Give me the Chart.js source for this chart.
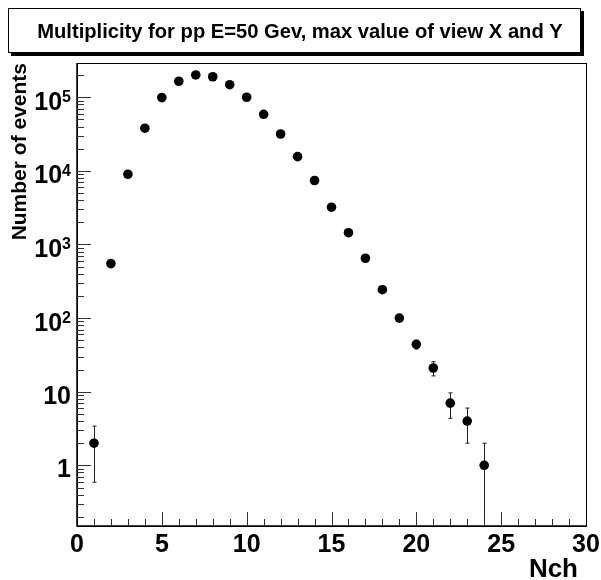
<!DOCTYPE html>
<html>
<head>
<meta charset="utf-8">
<script src="https://cdn.jsdelivr.net/npm/chart.js@4/dist/chart.umd.min.js"></script>
<style>
html,body{margin:0;padding:0;background:#fff;}
canvas{display:block;}
</style>
</head>
<body>
<canvas id="c" width="601" height="580"></canvas>
<script>
// ---- data ----
const titleText = 'Multiplicity for pp E=50 Gev, max value of view X and Y';
const xTitle = 'Nch';
const yTitle = 'Number of events';
const nch = [1,2,3,4,5,6,7,8,9,10,11,12,13,14,15,16,17,18,19,20,21,22,23,24];
const counts = [2, 550, 9000, 38000, 99000, 165000, 201000, 190000, 148000, 100000, 58700, 31700, 15600, 7400, 3210, 1445, 650, 243, 100, 44, 21, 7, 4, 1];
const errors = [1.41, 23, 95, 195, 315, 406, 448, 436, 385, 316, 242, 178, 125, 86, 57, 38, 25, 15.6, 10, 6, 4.6, 2.65, 2, 1];
const xTickValues = [0,5,10,15,20,25,30];
const xTickLabels = ['0','5','10','15','20','25','30'];
const yTickValues = [1,10,100,1000,10000,100000];
const yTickBase = ['1','10','10','10','10','10'];
const yTickExp = ['','','2','3','4','5'];

const FONT = '"Liberation Sans", Arial, Helvetica, sans-serif';

const decor = {
  id: 'decor',
  beforeDatasetsDraw(chart) {
    const ctx = chart.ctx, xs = chart.scales.x, ys = chart.scales.y, a = chart.chartArea;
    ctx.save();
    ctx.strokeStyle = '#222';
    ctx.lineWidth = 1;
    for (let i = 0; i < nch.length; i++) {
      const px = Math.round(xs.getPixelForValue(nch[i])) + 0.5;
      const hi = counts[i] + errors[i];
      const lo = counts[i] - errors[i];
      const pyHi = ys.getPixelForValue(hi);
      const pyLo = lo > ys.min ? ys.getPixelForValue(lo) : a.bottom;
      ctx.beginPath();
      ctx.moveTo(px, pyHi); ctx.lineTo(px, pyLo);
      ctx.moveTo(px - 2, pyHi); ctx.lineTo(px + 2, pyHi);
      if (lo > ys.min) { ctx.moveTo(px - 2, pyLo); ctx.lineTo(px + 2, pyLo); }
      ctx.stroke();
    }
    ctx.restore();
  },
  afterDraw(chart) {
    const ctx = chart.ctx, xs = chart.scales.x, ys = chart.scales.y, a = chart.chartArea;
    ctx.save();
    // frame
    ctx.strokeStyle = '#000';
    ctx.lineWidth = 1;
    ctx.strokeRect(Math.round(a.left) + 0.5, Math.round(a.top) + 0.5, Math.round(a.right - a.left), Math.round(a.bottom - a.top));
    // axes thicker
    ctx.lineWidth = 1.5;
    ctx.beginPath();
    ctx.moveTo(a.left, a.top); ctx.lineTo(a.left, a.bottom); ctx.lineTo(a.right, a.bottom);
    ctx.stroke();
    // y ticks (inside)
    ctx.lineWidth = 1;
    ctx.strokeStyle = '#333';
    ctx.beginPath();
    for (let e = -1; e <= 5; e++) {
      for (let m = 1; m <= 9; m++) {
        const v = m * Math.pow(10, e);
        if (v < ys.min || v > ys.max) continue;
        const py = Math.round(ys.getPixelForValue(v)) + 0.5;
        const len = m === 1 ? 14 : 7;
        ctx.moveTo(a.left, py); ctx.lineTo(a.left + len, py);
      }
    }
    // x ticks (inside)
    for (let v = 1; v < 30; v++) {
      const px = Math.round(xs.getPixelForValue(v)) + 0.5;
      const len = v % 5 === 0 ? 14 : 7;
      ctx.moveTo(px, a.bottom); ctx.lineTo(px, a.bottom - len);
    }
    ctx.stroke();

    // x tick labels
    ctx.fillStyle = '#000';
    ctx.font = 'bold 25px ' + FONT;
    ctx.textAlign = 'center';
    ctx.textBaseline = 'alphabetic';
    for (let i = 0; i < xTickValues.length; i++) {
      ctx.fillText(xTickLabels[i], xs.getPixelForValue(xTickValues[i]), a.bottom + 26);
    }
    // y tick labels
    const rightX = 71;
    for (let i = 0; i < yTickValues.length; i++) {
      const py = ys.getPixelForValue(yTickValues[i]);
      if (yTickExp[i]) {
        ctx.font = 'bold 16px ' + FONT;
        const we = ctx.measureText(yTickExp[i]).width;
        ctx.textAlign = 'left';
        ctx.fillText(yTickExp[i], rightX - we, py + 5);
        ctx.font = 'bold 25px ' + FONT;
        ctx.textAlign = 'right';
        ctx.fillText(yTickBase[i], rightX - we, py + 12.5);
      } else {
        ctx.font = 'bold 25px ' + FONT;
        ctx.textAlign = 'right';
        ctx.fillText(yTickBase[i], rightX, py + 12);
      }
    }
    // x title
    ctx.font = 'bold 26px ' + FONT;
    ctx.textAlign = 'right';
    ctx.fillText(xTitle, 578, 577);
    // y title
    ctx.save();
    ctx.translate(26, a.top);
    ctx.rotate(-Math.PI / 2);
    ctx.font = 'bold 21px ' + FONT;
    ctx.textAlign = 'right';
    ctx.fillText(yTitle, 0, 0);
    ctx.restore();

    // title box with shadow
    ctx.fillStyle = '#000';
    ctx.fillRect(11, 11, 573, 45);
    ctx.fillStyle = '#fff';
    ctx.fillRect(8, 8, 573, 45);
    ctx.strokeStyle = '#000';
    ctx.lineWidth = 1;
    ctx.strokeRect(8.5, 8.5, 572, 44);
    ctx.fillStyle = '#000';
    ctx.font = 'bold 20px ' + FONT;
    const w20 = ctx.measureText(titleText).width;
    const fs = 20 * 526 / w20;
    ctx.font = 'bold ' + fs.toFixed(2) + 'px ' + FONT;
    ctx.textAlign = 'center';
    ctx.fillText(titleText, 300, 38);
    ctx.restore();
  }
};

new Chart(document.getElementById('c'), {
  type: 'scatter',
  data: {
    datasets: [{
      data: nch.map((x, i) => ({ x: x, y: counts[i] })),
      pointRadius: 4.8,
      pointHoverRadius: 4.8,
      pointBackgroundColor: '#000',
      pointBorderWidth: 0,
      showLine: false
    }]
  },
  options: {
    responsive: false,
    animation: false,
    events: [],
    layout: { padding: { left: 77, top: 63, right: 15, bottom: 54 } },
    plugins: { legend: { display: false }, tooltip: { enabled: false }, title: { display: false } },
    scales: {
      x: { type: 'linear', min: 0, max: 30, display: false },
      y: { type: 'logarithmic', min: 0.15, max: 292000, display: false }
    }
  },
  plugins: [decor]
});
</script>
</body>
</html>
